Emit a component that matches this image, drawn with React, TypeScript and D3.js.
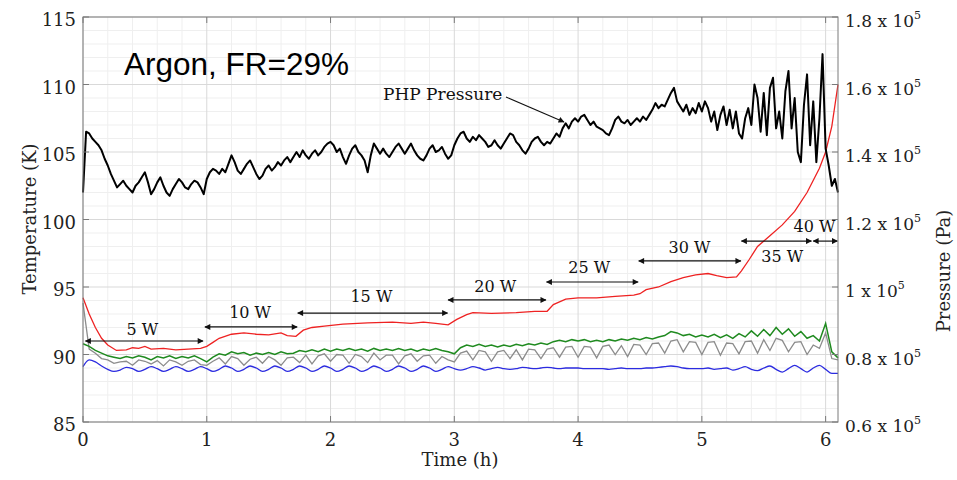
import React from 'react';
import * as d3 from 'd3';

// PHP pressure (x 1e5 Pa), sampled every 0.025 h from t = 0
const PRESSURE_STEP = 0.025;
const phpPressure = [
  1.28, 1.46, 1.455, 1.44, 1.43, 1.42, 1.405, 1.38, 1.36, 1.335,
  1.315, 1.295, 1.305, 1.315, 1.3, 1.29, 1.28, 1.3, 1.31, 1.325,
  1.34, 1.31, 1.275, 1.29, 1.31, 1.325, 1.3, 1.28, 1.27, 1.29,
  1.305, 1.32, 1.31, 1.295, 1.29, 1.305, 1.315, 1.31, 1.295, 1.275,
  1.32, 1.34, 1.35, 1.345, 1.335, 1.35, 1.34, 1.365, 1.39, 1.37,
  1.345, 1.335, 1.35, 1.365, 1.375, 1.355, 1.335, 1.32, 1.33, 1.35,
  1.36, 1.345, 1.355, 1.37, 1.36, 1.375, 1.385, 1.37, 1.385, 1.4,
  1.385, 1.405, 1.39, 1.38, 1.395, 1.405, 1.39, 1.4, 1.415, 1.425,
  1.43, 1.42, 1.4, 1.41, 1.385, 1.365, 1.39, 1.41, 1.42, 1.4,
  1.39, 1.375, 1.34, 1.39, 1.425, 1.41, 1.395, 1.41, 1.395, 1.385,
  1.4, 1.415, 1.425, 1.41, 1.395, 1.41, 1.425, 1.405, 1.39, 1.38,
  1.375, 1.39, 1.41, 1.42, 1.4, 1.405, 1.415, 1.395, 1.38, 1.39,
  1.42, 1.44, 1.455, 1.46, 1.44, 1.43, 1.445, 1.435, 1.45, 1.44,
  1.43, 1.415, 1.42, 1.435, 1.42, 1.41, 1.425, 1.44, 1.455, 1.45,
  1.43, 1.42, 1.405, 1.395, 1.41, 1.43, 1.44, 1.445, 1.43, 1.42,
  1.43, 1.425, 1.44, 1.455, 1.445, 1.47, 1.485, 1.47, 1.49, 1.5,
  1.49, 1.505, 1.51, 1.495, 1.48, 1.49, 1.475, 1.47, 1.465, 1.455,
  1.45, 1.47, 1.495, 1.505, 1.49, 1.485, 1.495, 1.48, 1.49, 1.5,
  1.49, 1.505, 1.495, 1.51, 1.525, 1.545, 1.53, 1.54, 1.535, 1.555,
  1.575, 1.59, 1.55, 1.535, 1.52, 1.54, 1.51, 1.53, 1.515, 1.545,
  1.52, 1.55, 1.53, 1.49, 1.52, 1.465, 1.51, 1.535, 1.48, 1.525,
  1.47, 1.52, 1.455, 1.44, 1.5, 1.53, 1.48, 1.6, 1.56, 1.46,
  1.575, 1.45, 1.59, 1.62, 1.47, 1.52, 1.44, 1.58, 1.64, 1.47,
  1.56, 1.4, 1.37, 1.54, 1.63, 1.42, 1.55, 1.37, 1.5, 1.69,
  1.41, 1.36, 1.3, 1.32, 1.28,
];

// temperatures (K), sampled every 0.05 h from t = 0
const TEMP_STEP = 0.05;
const greenTemp = [
  90.8, 90.6, 90.3, 90.1, 89.9, 89.8, 89.7, 89.85, 89.75, 89.9,
  89.8, 89.6, 89.85, 89.75, 89.9, 89.7, 89.85, 89.75, 89.9, 89.7,
  89.45, 89.8, 90.05, 89.95, 90.2, 90.05, 90.15, 89.95, 90.1, 90.0,
  90.15, 90.0, 90.2, 90.05, 90.1, 90.3, 90.2, 90.35, 90.2, 90.4,
  90.25, 90.4, 90.3, 90.45, 90.3, 90.4, 90.25, 90.45, 90.3, 90.4,
  90.3, 90.45, 90.3, 90.4, 90.25, 90.4, 90.3, 90.45, 90.3, 90.2,
  90.05, 90.5, 90.7, 90.6, 90.75, 90.6, 90.7, 90.55, 90.7, 90.6,
  90.75, 90.65, 90.8, 90.7, 90.85, 90.75, 90.95, 91.05, 90.95, 91.1,
  91.0, 91.1, 90.95, 91.05, 90.95, 91.1, 91.0, 91.15, 91.05, 91.2,
  91.1, 91.25, 91.15, 91.3, 91.4, 91.7, 91.6, 91.4, 91.5, 91.3,
  91.45, 91.3, 91.5, 91.25, 91.45, 91.2, 91.55, 91.3, 91.75, 91.35,
  91.85, 91.4, 92.0, 91.5, 91.9, 91.35, 91.7, 91.2, 91.4, 91.0,
  92.3, 90.2, 89.75,
];

const grayTemp = [
  93.8, 90.4, 90.1, 89.7, 89.6, 89.35, 89.45, 89.5, 89.2, 89.6,
  89.5, 89.3, 89.55, 89.15, 89.6, 89.45, 89.2, 89.5, 89.6, 89.25,
  89.2, 89.5, 89.75, 89.3, 89.85, 89.7, 89.2, 89.65, 89.8, 89.35,
  89.85, 89.6, 89.2, 89.75, 89.8, 89.4, 89.95, 89.3, 89.9, 90.05,
  89.5, 90.0, 89.95, 89.35, 90.0, 89.85, 89.4, 90.1, 89.6, 89.95,
  89.95, 89.3, 89.9, 90.05, 89.5, 89.9, 89.95, 89.35, 89.85, 89.6,
  89.45, 90.1, 90.25, 89.6, 90.3, 90.2, 89.5, 90.2, 90.3, 89.7,
  90.35, 89.6, 90.4, 90.35, 89.7, 90.4, 90.5, 89.8, 90.55, 90.6,
  89.8, 90.6, 90.55, 89.75, 90.6, 90.7, 90.0, 90.65, 89.85, 90.75,
  90.7, 90.0, 90.8, 90.85, 90.1, 91.0, 91.1, 90.2, 90.95, 90.9,
  90.0, 90.9, 90.95, 89.95, 90.85, 90.8, 90.05, 90.95, 91.0, 90.1,
  91.1, 90.3, 91.2, 91.05, 90.2, 90.9, 90.95, 90.0, 90.7, 90.45,
  91.6, 89.7, 89.6,
];

const blueTemp = [
  89.1, 89.6, 89.45, 89.15, 88.9, 88.75, 88.85, 89.05, 88.95, 88.75,
  88.9, 89.1, 88.95, 88.75, 88.9, 89.1, 88.95, 88.75, 88.9, 89.1,
  88.95, 88.75, 88.9, 89.15, 89.0, 88.75, 88.9, 89.15, 89.0, 88.75,
  88.9, 89.15, 89.0, 88.75, 88.9, 89.15, 89.0, 88.75, 88.9, 89.15,
  89.0, 88.75, 88.9, 89.15, 89.0, 88.75, 88.9, 89.15, 89.0, 88.75,
  88.9, 89.15, 89.0, 88.75, 88.9, 89.15, 89.0, 88.75, 88.9, 89.1,
  88.95, 88.85, 88.95, 89.1, 89.0, 88.85, 88.95, 89.05, 88.95, 88.9,
  88.95, 89.05, 89.0, 88.95, 89.0, 89.05, 89.0, 88.95, 89.0, 89.0,
  89.0, 88.95, 88.95, 88.95, 88.95, 88.9, 88.95, 89.0, 88.95, 88.95,
  88.95, 89.0, 89.0, 89.05, 89.1, 89.15, 89.1, 89.0, 88.95, 88.95,
  88.95, 89.0, 88.9, 88.95, 89.0, 88.85, 88.95, 89.1, 88.9, 88.8,
  89.0, 89.15, 88.9, 88.7, 88.95, 89.2, 88.95, 88.7, 89.0, 89.2,
  88.9, 88.6, 88.6,
];

const redTime = [
  0, 0.05, 0.1, 0.15, 0.2, 0.27, 0.35, 0.4, 0.45, 0.5, 0.55, 0.65, 0.75, 0.85, 0.95,
  1.0, 1.05, 1.1, 1.2, 1.3, 1.4, 1.5, 1.6, 1.65, 1.72, 1.78, 1.85, 1.95, 2.1, 2.3,
  2.5, 2.65, 2.75, 2.85, 2.95, 3.02, 3.1, 3.15, 3.3, 3.5, 3.65, 3.75, 3.8, 3.9, 4.0,
  4.15, 4.3, 4.45, 4.5, 4.55, 4.65, 4.75, 4.85, 4.95, 5.05, 5.12, 5.2, 5.28, 5.32,
  5.38, 5.45, 5.55, 5.65, 5.75, 5.85, 5.95, 6.0, 6.05, 6.1,
];
const redTemp = [
  94.2, 93.0, 92.0, 91.2, 90.7, 90.3, 90.35, 90.5, 90.45, 90.6, 90.4, 90.45, 90.35, 90.4, 90.45,
  90.6, 90.9, 91.2, 91.5, 91.6, 91.5, 91.45, 91.6, 91.4, 91.35, 91.8, 92.0, 92.1, 92.25, 92.35,
  92.4, 92.3, 92.4, 92.3, 92.2, 92.6, 92.95, 93.1, 93.05, 93.1, 93.2, 93.2, 93.7, 94.1, 94.2,
  94.2, 94.3, 94.4, 94.5, 94.8, 95.0, 95.4, 95.7, 95.9, 96.0, 95.85, 95.7, 95.75, 96.2,
  97.0, 98.0, 98.8, 99.6, 100.6, 102.0, 103.8, 105.0, 106.9, 110.0,
];

// heater power steps
const powerLabels = ['5 W', '10 W', '15 W', '20 W', '25 W', '30 W', '35 W', '40 W'];
const powerStart = [0.02, 0.985, 1.735, 2.95, 3.745, 4.49, 5.32, 5.9];
const powerEnd = [0.97, 1.73, 2.945, 3.74, 4.485, 5.315, 5.885, 6.095];
const powerArrowTemp = [91.0, 92.04, 93.07, 94.04, 95.37, 96.93, 98.4, 98.4];
const powerLabelTime = [0.48, 1.35, 2.33, 3.33, 4.09, 4.9, 5.65, 5.91];
const powerLabelTemp = [91.44, 92.7, 93.89, 94.63, 96.04, 97.52, 96.85, 99.07];

const timeTicks = [0, 1, 2, 3, 4, 5, 6];
const tempTicks = [85, 90, 95, 100, 105, 110, 115];
const pressureTicks = [0.6, 0.8, 1, 1.2, 1.4, 1.6, 1.8];
const pressureTickLabels = ['0.6', '0.8', '1', '1.2', '1.4', '1.6', '1.8'];

const serif = '"DejaVu Serif", serif';

export default function App() {
  const left = 83;
  const right = 838;
  const top = 17;
  const bottom = 422;

  const x = d3.scaleLinear().domain([0, 6.1]).range([left, right]);
  const yT = d3.scaleLinear().domain([85, 115]).range([bottom, top]);
  const yP = d3.scaleLinear().domain([0.6, 1.8]).range([bottom, top]);

  const tempLine = d3
    .line<number>()
    .x((_, i) => x(i * TEMP_STEP))
    .y((d) => yT(d));
  const blueLine = d3
    .line<number>()
    .x((_, i) => x(i * TEMP_STEP))
    .y((d) => yT(d))
    .curve(d3.curveMonotoneX);
  const pressureLine = d3
    .line<number>()
    .x((_, i) => x(i * PRESSURE_STEP))
    .y((d) => yP(d));
  const redLine = d3
    .line<number>()
    .x((_, i) => x(redTime[i]))
    .y((d) => yT(d));

  const minorX = d3.range(0, 6.1, 0.2).filter((v) => Math.abs(v - Math.round(v)) > 0.01);
  const minorY = d3.range(85, 115, 1).filter((v) => v % 5 !== 0);

  return (
    <svg width={957} height={480} style={{ position: 'absolute', left: 0, top: 0, background: '#fff' }}>
      <defs>
        <marker id="ah" viewBox="0 0 10 10" refX="9" refY="5" markerWidth="7" markerHeight="6" orient="auto-start-reverse" markerUnits="userSpaceOnUse">
          <path d="M0,0 L10,5 L0,10 z" fill="#111" />
        </marker>
      </defs>

      {/* grid */}
      <g>
        {minorX.map((v) => (
          <line key={'mx' + v} x1={x(v)} x2={x(v)} y1={top} y2={bottom} stroke="#efefef" />
        ))}
        {minorY.map((v) => (
          <line key={'my' + v} x1={left} x2={right} y1={yT(v)} y2={yT(v)} stroke="#efefef" />
        ))}
        {timeTicks.map((v) => (
          <line key={'gx' + v} x1={x(v)} x2={x(v)} y1={top} y2={bottom} stroke="#d9d9d9" />
        ))}
        {tempTicks.map((v) => (
          <line key={'gy' + v} x1={left} x2={right} y1={yT(v)} y2={yT(v)} stroke="#d9d9d9" />
        ))}
      </g>

      {/* series */}
      <path d={tempLine(grayTemp) || ''} fill="none" stroke="#8c8c8c" strokeWidth={1.3} />
      <path d={tempLine(greenTemp) || ''} fill="none" stroke="#1f8a1f" strokeWidth={1.5} />
      <path d={blueLine(blueTemp) || ''} fill="none" stroke="#2b2be0" strokeWidth={1.3} />
      <path d={redLine(redTemp) || ''} fill="none" stroke="#ee2222" strokeWidth={1.3} />
      <path d={pressureLine(phpPressure) || ''} fill="none" stroke="#000" strokeWidth={2} strokeLinejoin="round" />

      {/* power step annotations */}
      {powerLabels.map((label, i) => (
        <g key={label}>
          <line
            x1={x(powerStart[i])}
            x2={x(powerEnd[i])}
            y1={yT(powerArrowTemp[i])}
            y2={yT(powerArrowTemp[i])}
            stroke="#111"
            strokeWidth={1.2}
            markerStart="url(#ah)"
            markerEnd="url(#ah)"
          />
          <text x={x(powerLabelTime[i])} y={yT(powerLabelTemp[i])} textAnchor="middle" fontFamily={serif} fontSize={16} fill="#111">
            {label}
          </text>
        </g>
      ))}

      {/* PHP pressure callout */}
      <text x={383} y={100} fontFamily={serif} fontSize={17} fill="#111">PHP Pressure</text>
      <line x1={506} y1={97} x2={564} y2={122} stroke="#111" strokeWidth={1.1} markerEnd="url(#ah)" />

      <text x={124} y={75} fontFamily='"Liberation Sans", Arial, sans-serif' fontSize={31.5} fill="#000">
        Argon, FR=29%
      </text>

      {/* frame and ticks */}
      <rect x={left} y={top} width={right - left} height={bottom - top} fill="none" stroke="#7a7a7a" />
      {timeTicks.map((v) => (
        <g key={'tx' + v}>
          <line x1={x(v)} x2={x(v)} y1={bottom} y2={bottom - 6} stroke="#7a7a7a" />
          <line x1={x(v)} x2={x(v)} y1={top} y2={top + 6} stroke="#7a7a7a" />
          <text x={x(v)} y={446} textAnchor="middle" fontFamily={serif} fontSize={18} fill="#222">
            {v}
          </text>
        </g>
      ))}
      {tempTicks.map((v) => (
        <g key={'ty' + v}>
          <line x1={left} x2={left + 6} y1={yT(v)} y2={yT(v)} stroke="#7a7a7a" />
          <text x={76} y={yT(v) + 9} textAnchor="end" fontFamily={serif} fontSize={18} fill="#222">
            {v}
          </text>
        </g>
      ))}
      {pressureTicks.map((v, i) => (
        <g key={'tp' + v}>
          <line x1={right} x2={right - 6} y1={yP(v)} y2={yP(v)} stroke="#7a7a7a" />
          <text x={845} y={yP(v) + 10} fontFamily={serif} fontSize={17} fill="#222">
            {pressureTickLabels[i]} x 10
            <tspan dy={-8} fontSize={11}>5</tspan>
          </text>
        </g>
      ))}

      {/* axis titles */}
      <text transform="translate(36,219) rotate(-90)" textAnchor="middle" fontFamily={serif} fontSize={18} fill="#222">
        Temperature (K)
      </text>
      <text transform="translate(950,271) rotate(-90)" textAnchor="middle" fontFamily={serif} fontSize={18} fill="#222">
        Pressure (Pa)
      </text>
      <text x={460} y={466} textAnchor="middle" fontFamily={serif} fontSize={18} fill="#222">
        Time (h)
      </text>
    </svg>
  );
}
